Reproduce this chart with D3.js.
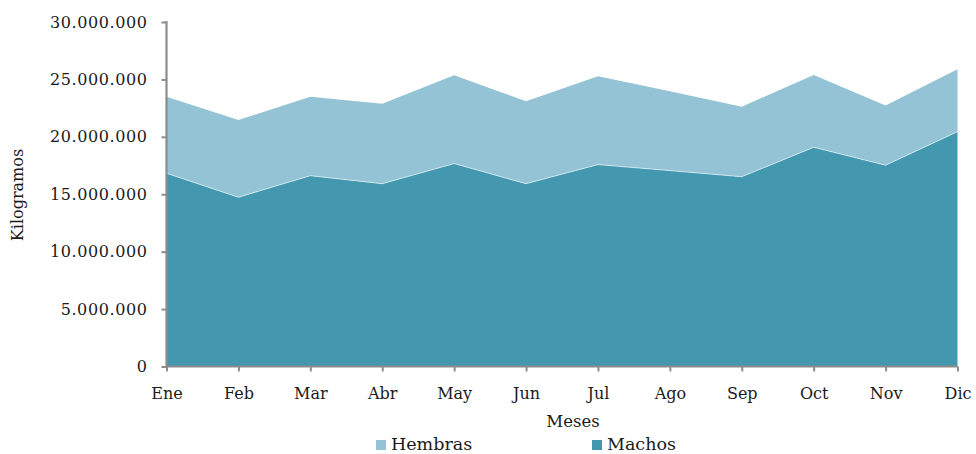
<!DOCTYPE html>
<html>
<head>
<meta charset="utf-8">
<script src="https://cdn.jsdelivr.net/npm/d3@7"></script>
<style>
  body { margin: 0; background: #fff; }
  svg text { font-family: "DejaVu Serif", serif; fill: #1a1a1a; }
</style>
</head>
<body>
<div id="chart"></div>
<script>
// Kilogramos por mes, machos y hembras (apilado)
var meses = ["Ene", "Feb", "Mar", "Abr", "May", "Jun", "Jul", "Ago", "Sep", "Oct", "Nov", "Dic"];
var machos = [16830000, 14740000, 16620000, 15920000, 17670000, 15920000, 17580000, 17060000, 16530000, 19090000, 17530000, 20450000];
var hembras = [6670000, 6730000, 6880000, 6970000, 7700000, 7180000, 7700000, 6910000, 6100000, 6300000, 5190000, 5440000];
var yTicks = [0, 5000000, 10000000, 15000000, 20000000, 25000000, 30000000];

var margin = {top: 22, right: 18, bottom: 87.5, left: 166.5},
    width = 976 - margin.left - margin.right,
    height = 454 - margin.top - margin.bottom;

var data = meses.map(function(m, i) {
  return {mes: m, Machos: machos[i], Hembras: hembras[i]};
});

var stack = d3.stack().keys(["Machos", "Hembras"]);
var series = stack(data);

var x = d3.scalePoint()
    .domain(meses)
    .range([0, width - 0.5]);

var y = d3.scaleLinear()
    .domain([0, 30000000])
    .range([height, 0]);

var colors = {Machos: "#4397af", Hembras: "#93c3d4"};

var fmt = function(d) { return d3.format(",")(d).replace(/,/g, "."); };

var area = d3.area()
    .x(function(d) { return x(d.data.mes); })
    .y0(function(d) { return y(d[0]); })
    .y1(function(d) { return y(d[1]); });

var svg = d3.select("#chart").append("svg")
    .attr("width", 976)
    .attr("height", 454);

var g = svg.append("g")
    .attr("transform", "translate(" + margin.left + "," + margin.top + ")");

g.selectAll(".area")
    .data(series)
  .enter().append("path")
    .attr("class", "area")
    .attr("fill", function(d) { return colors[d.key]; })
    .attr("d", area);

// thin light edge between the two areas
g.append("path")
    .datum(series[0])
    .attr("fill", "none")
    .attr("stroke", "#d9edf3")
    .attr("stroke-width", 0.8)
    .attr("d", d3.line()
      .x(function(d) { return x(d.data.mes); })
      .y(function(d) { return y(d[1]); }));

var xAxis = d3.axisBottom(x).tickSize(5).tickPadding(16);
var yAxis = d3.axisLeft(y).tickValues(yTicks).tickFormat(fmt).tickSize(5).tickPadding(14);

var gx = g.append("g")
    .attr("class", "x axis")
    .attr("transform", "translate(0," + height + ")")
    .call(xAxis);

var gy = g.append("g")
    .attr("class", "y axis")
    .call(yAxis);

[gx, gy].forEach(function(a) {
  a.select(".domain").attr("stroke", "#8c8c8c").attr("stroke-width", 2.2);
  a.selectAll(".tick line").attr("stroke", "#8c8c8c").attr("stroke-width", 2);
  a.selectAll(".tick text").style("font-size", "16px").style("font-family", "DejaVu Serif");
});
gy.selectAll(".tick text").attr("letter-spacing", "0.6px");
gx.select(".domain").attr("d", "M0.5,0H" + (width - 0.5));
gy.select(".domain").attr("d", "M0," + (height + 1) + "V-1");

svg.append("text")
    .attr("x", 573)
    .attr("y", 427)
    .attr("text-anchor", "middle")
    .style("font-size", "16.5px")
    .text("Meses");

svg.append("text")
    .attr("transform", "translate(23,195) rotate(-90)")
    .attr("text-anchor", "middle")
    .style("font-size", "16px")
    .text("Kilogramos");

var legend = svg.append("g").attr("class", "legend");
var items = [{key: "Hembras", x: 376}, {key: "Machos", x: 592}];
legend.selectAll("rect")
    .data(items)
  .enter().append("rect")
    .attr("x", function(d) { return d.x; })
    .attr("y", 440)
    .attr("width", 10)
    .attr("height", 10)
    .attr("fill", function(d) { return colors[d.key]; });
legend.selectAll("text")
    .data(items)
  .enter().append("text")
    .attr("x", function(d) { return d.x + 15; })
    .attr("y", 449.5)
    .style("font-size", "17.5px")
    .text(function(d) { return d.key; });
</script>
</body>
</html>
